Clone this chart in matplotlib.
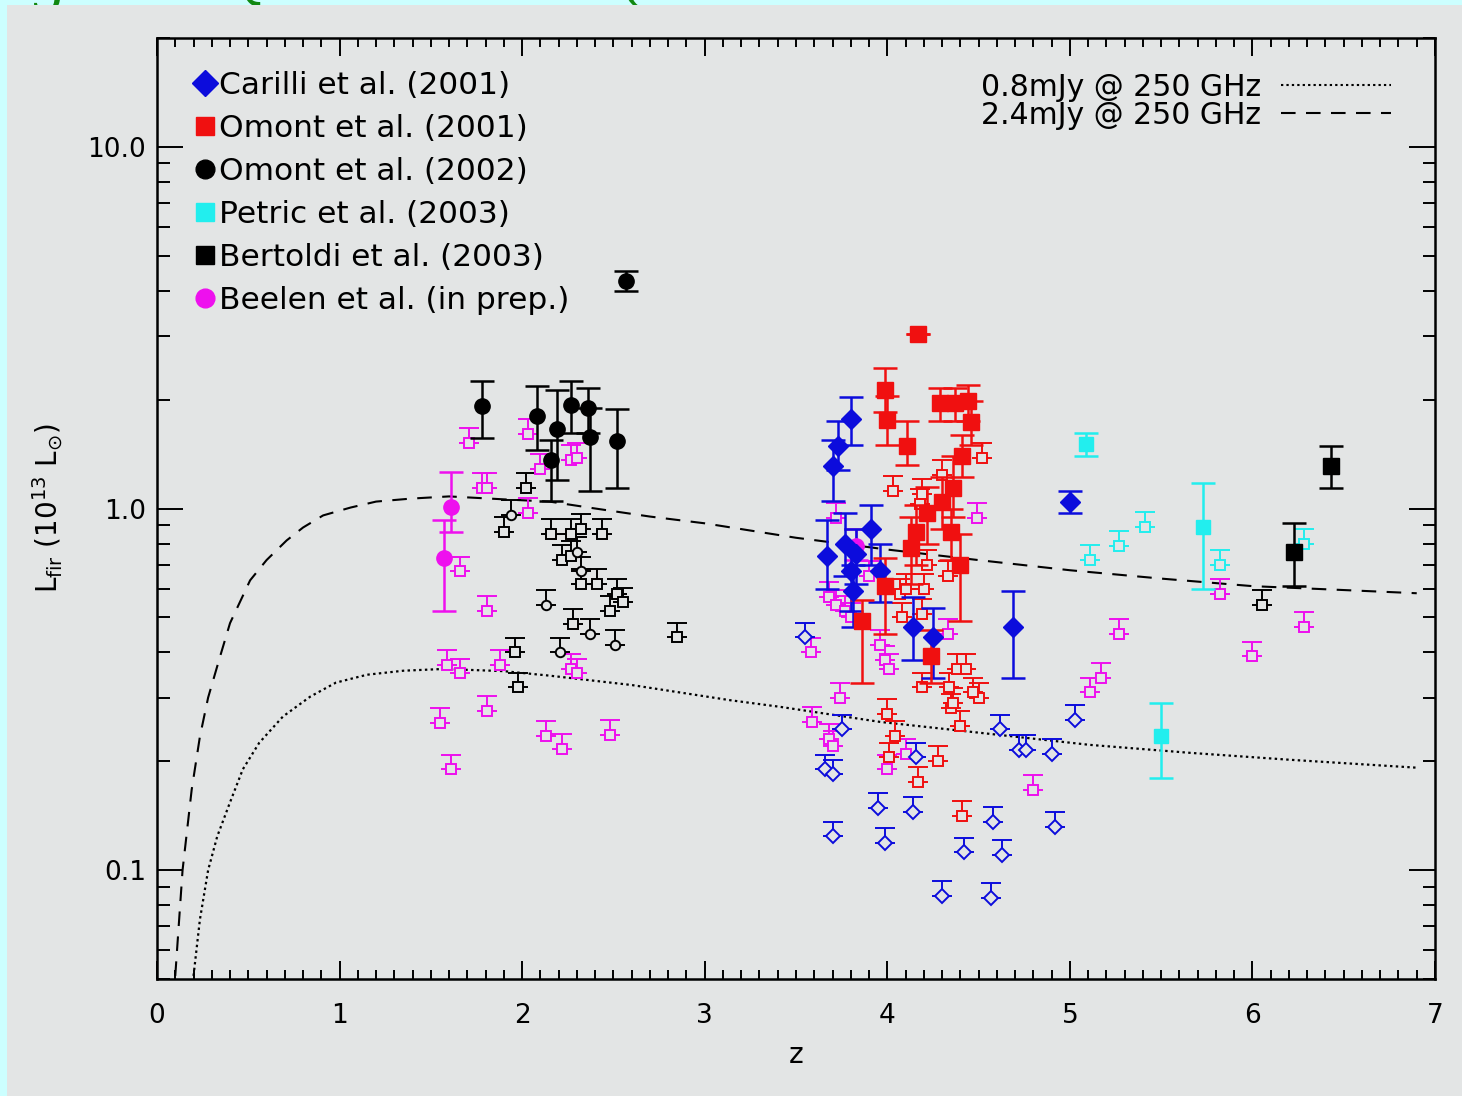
import numpy as np
import matplotlib
matplotlib.use("Agg")
import matplotlib.pyplot as plt
from matplotlib.lines import Line2D
from matplotlib.patches import Rectangle
from matplotlib.ticker import MultipleLocator, LogLocator, NullFormatter, FixedLocator, FixedFormatter

# ---------------- data ----------------
# sensitivity curves (L_FIR limit vs z)
dash_z = [0.10, 0.14, 0.19, 0.235, 0.28, 0.345, 0.40, 0.51, 0.60, 0.71, 0.80, 0.91, 1.06, 1.20, 1.39,
          1.60, 1.90, 2.15, 2.40, 2.70, 3.00, 3.50, 4.00, 4.50, 5.00, 5.50, 6.00, 6.50, 6.90]
dash_L = [0.051, 0.10, 0.167, 0.234, 0.30, 0.389, 0.482, 0.633, 0.72, 0.816, 0.886, 0.957, 1.006, 1.045, 1.065,
          1.08, 1.06, 1.045, 1.00, 0.95, 0.91, 0.83, 0.77, 0.72, 0.675, 0.64, 0.61, 0.595, 0.583]
dot_z = [0.20, 0.235, 0.28, 0.33, 0.40, 0.47, 0.56, 0.69, 0.84, 0.98, 1.15, 1.35, 1.57, 1.90, 2.15,
         2.60, 3.14, 3.41, 3.96, 4.50, 5.11, 5.66, 6.20, 6.90]
dot_L = [0.051, 0.073, 0.10, 0.124, 0.154, 0.19, 0.225, 0.266, 0.302, 0.33, 0.347, 0.356, 0.36, 0.355, 0.345,
         0.325, 0.295, 0.283, 0.257, 0.24, 0.222, 0.211, 0.202, 0.192]

# Carilli et al. (2001) - detections
car_z = [3.80, 3.73, 3.70, 3.67, 3.77, 3.91, 3.83, 3.80, 3.96, 3.81, 4.14, 4.25, 4.69, 5.00]
car_L = [1.77, 1.49, 1.31, 0.74, 0.80, 0.88, 0.75, 0.67, 0.67, 0.59, 0.47, 0.44, 0.47, 1.04]
car_lo = [1.50, 1.28, 1.05, 0.60, 0.65, 0.70, 0.62, 0.52, 0.55, 0.47, 0.38, 0.34, 0.34, 0.97]
car_hi = [2.03, 1.75, 1.55, 0.93, 0.97, 1.02, 0.88, 0.80, 0.80, 0.70, 0.57, 0.53, 0.59, 1.12]
# Carilli et al. (2001) - upper limits
car_lim_z = [3.55, 3.75, 3.66, 3.70, 4.16, 3.95, 4.14, 3.70, 3.99, 4.42, 4.58, 4.63, 4.30, 4.57,
             4.62, 4.72, 4.76, 4.90, 5.03, 4.92]
car_lim_L = [0.44, 0.245, 0.19, 0.184, 0.205, 0.149, 0.145, 0.124, 0.119, 0.112, 0.136, 0.110, 0.085, 0.084,
             0.245, 0.215, 0.215, 0.21, 0.26, 0.132]

# Omont et al. (2001) - detections
om1_z = [4.17, 3.99, 4.00, 4.11, 4.29, 4.37, 4.44, 4.46, 4.41, 4.36, 4.30, 4.22, 4.16, 4.35, 4.13, 4.40,
         3.99, 3.86, 4.24]
om1_L = [3.03, 2.13, 1.76, 1.49, 1.96, 1.96, 1.98, 1.73, 1.40, 1.14, 1.04, 0.97, 0.86, 0.86, 0.78, 0.70,
         0.61, 0.49, 0.39]
om1_lo = [3.03, 1.85, 1.50, 1.32, 1.75, 1.75, 1.75, 1.50, 1.22, 0.95, 0.88, 0.80, 0.70, 0.72, 0.62, 0.49,
          0.45, 0.33, 0.33]
om1_hi = [3.03, 2.45, 2.05, 1.75, 2.15, 2.15, 2.20, 1.98, 1.60, 1.40, 1.22, 1.15, 1.02, 1.00, 0.95, 0.85,
          0.73, 0.56, 0.46]
# Omont et al. (2001) - upper limits
om1_lim_z = [4.03, 4.52, 4.30, 4.19, 4.18, 4.22, 4.33, 4.07, 4.08, 4.19, 4.38, 4.43, 4.19, 4.34, 4.50,
             4.35, 4.40, 4.00, 4.04, 4.01, 4.28, 4.17, 4.41, 4.20, 4.10, 4.47, 4.36]
om1_lim_L = [1.12, 1.38, 1.24, 1.10, 1.03, 0.70, 0.65, 0.58, 0.50, 0.51, 0.36, 0.36, 0.32, 0.32, 0.30,
             0.28, 0.25, 0.27, 0.235, 0.205, 0.20, 0.175, 0.141, 0.60, 0.60, 0.31, 0.29]

# Omont et al. (2002) - detections
om2_z = [1.78, 2.08, 2.19, 2.27, 2.36, 2.37, 2.16, 2.52, 2.57]
om2_L = [1.92, 1.80, 1.66, 1.93, 1.90, 1.58, 1.36, 1.54, 4.27]
om2_lo = [1.57, 1.45, 1.20, 1.62, 1.62, 1.12, 1.05, 1.14, 4.00]
om2_hi = [2.25, 2.18, 2.12, 2.25, 2.15, 1.90, 1.55, 1.88, 4.55]
# Omont et al. (2002) - upper limits (squares / circles)
om2_lsq_z = [2.02, 1.90, 2.16, 2.27, 2.32, 2.44, 2.22, 2.27, 2.32, 2.41, 2.48, 2.52, 2.55, 2.28, 2.85,
             1.96, 1.98]
om2_lsq_L = [1.14, 0.86, 0.85, 0.85, 0.88, 0.85, 0.72, 0.74, 0.62, 0.62, 0.52, 0.58, 0.55, 0.48, 0.44,
             0.40, 0.32]
om2_lci_z = [1.94, 2.30, 2.32, 2.13, 2.37, 2.51, 2.21]
om2_lci_L = [0.96, 0.76, 0.67, 0.54, 0.45, 0.42, 0.40]

# Petric et al. (2003)
pet_z = [5.09, 5.73, 5.50]
pet_L = [1.51, 0.89, 0.235]
pet_lo = [1.40, 0.60, 0.18]
pet_hi = [1.62, 1.18, 0.29]
pet_lim_z = [5.11, 5.27, 5.41, 5.82, 6.28]
pet_lim_L = [0.72, 0.79, 0.89, 0.70, 0.80]

# Bertoldi et al. (2003)
ber_z = [6.43, 6.23]
ber_L = [1.31, 0.76]
ber_lo = [1.14, 0.61]
ber_hi = [1.49, 0.91]
ber_lim_z = [6.05]
ber_lim_L = [0.54]

# Beelen et al. (in prep.)
bee_z = [1.61, 1.57, 3.83]
bee_L = [1.01, 0.73, 0.79]
bee_lo = [0.86, 0.52, 0.72]
bee_hi = [1.26, 0.93, 0.88]
bee_lim_z = [1.71, 1.78, 1.81, 2.03, 2.10, 2.27, 2.30, 2.03, 1.66, 1.81, 1.59, 1.66, 1.88, 2.27, 2.30,
             1.55, 1.81, 2.13, 2.22, 2.48, 1.61, 3.58, 3.68, 3.72, 3.77, 3.80, 3.74, 3.59, 3.68, 3.70,
             4.00, 4.10, 4.33, 3.96, 3.99, 4.01, 3.90, 4.49, 3.72, 5.27, 5.17, 5.11, 5.82, 6.00, 6.28, 4.80]
bee_lim_L = [1.52, 1.14, 1.14, 1.61, 1.29, 1.36, 1.38, 0.97, 0.67, 0.52, 0.37, 0.35, 0.37, 0.36, 0.35,
             0.255, 0.276, 0.235, 0.216, 0.237, 0.19, 0.40, 0.57, 0.54, 0.52, 0.50, 0.30, 0.257, 0.23, 0.22,
             0.19, 0.21, 0.45, 0.42, 0.38, 0.36, 0.65, 0.94, 0.94, 0.45, 0.34, 0.31, 0.58, 0.39, 0.47, 0.167]

legend_labels = ["Carilli et al. (2001)", "Omont et al. (2001)", "Omont et al. (2002)",
                 "Petric et al. (2003)", "Bertoldi et al. (2003)", "Beelen et al. (in prep.)"]
curve_labels = ["0.8mJy @ 250 GHz", "2.4mJy @ 250 GHz"]

# ---------------- style ----------------
W, H = 1462, 1096
BG_OUT = "#ccffff"
BG = "#e3e5e5"
BLUE = "#0c0cdc"
RED = "#f01010"
BLACK = "#000000"
CYAN = "#22eeee"
MAG = "#ee10ee"
LIM_UP = 10 ** 0.041  # height of the upper-limit "T" symbol (style)

fig = plt.figure(figsize=(W / 100, H / 100), dpi=100)
fig.patch.set_facecolor(BG_OUT)
fig.patches.append(Rectangle((7 / W, 0), 1 - 7 / W, 1 - 5 / H, transform=fig.transFigure,
                             facecolor=BG, edgecolor="none", zorder=1))
for ch, xp in [("g", 48), ("Q", 245), ("(", 630)]:
    fig.text(xp / W, 1 + 2 / H, ch, color="#118811", fontsize=44, va="baseline", ha="center",
             family="DejaVu Serif", zorder=0)

L, R, T, B = 157, 1435, 38, 979
ax = fig.add_axes([L / W, 1 - B / H, (R - L) / W, (B - T) / H], zorder=2)
ax.set_facecolor("none")
ax.set_yscale("log")
ax.set_xlim(0, 7)
ax.set_ylim(0.05, 20)

# curves
ax.plot(dash_z, dash_L, color="black", lw=1.5, ls=(0, (7, 5)), zorder=2)
ax.plot(dot_z, dot_L, color="black", lw=1.6, ls=(0, (1.1, 1.5)), zorder=2)


def detections(z, Lv, lo, hi, color, marker, ms, zo=4):
    z = np.asarray(z); Lv = np.asarray(Lv)
    yerr = [Lv - np.asarray(lo), np.asarray(hi) - Lv]
    ax.errorbar(z, Lv, yerr=yerr, fmt=marker, color=color, mfc=color, mec=color, ms=ms,
                elinewidth=1.8, capsize=8.5, capthick=1.8, zorder=zo)


def limits(z, Lv, color, marker, zo=3):
    z = np.asarray(z); Lv = np.asarray(Lv)
    yerr = [np.zeros_like(Lv), Lv * (LIM_UP - 1)]
    ax.errorbar(z, Lv, yerr=yerr, fmt=marker, color=color, mfc=BG, mec=color, ms=6.8, mew=1.4,
                elinewidth=1.4, capsize=7.5, capthick=1.4, zorder=zo)


limits(om2_lsq_z, om2_lsq_L, BLACK, "s")
limits(om2_lci_z, om2_lci_L, BLACK, "o")
limits(ber_lim_z, ber_lim_L, BLACK, "s")
limits(bee_lim_z, bee_lim_L, MAG, "s")
limits(car_lim_z, car_lim_L, BLUE, "D")
limits(om1_lim_z, om1_lim_L, RED, "s")
limits(pet_lim_z, pet_lim_L, CYAN, "s")

detections(om2_z, om2_L, om2_lo, om2_hi, BLACK, "o", 11)
detections(bee_z, bee_L, bee_lo, bee_hi, MAG, "o", 11)
detections(car_z, car_L, car_lo, car_hi, BLUE, "D", 10.5)
detections(om1_z, om1_L, om1_lo, om1_hi, RED, "s", 11)
detections(pet_z, pet_L, pet_lo, pet_hi, CYAN, "s", 10.5)
detections(ber_z, ber_L, ber_lo, ber_hi, BLACK, "s", 11)

# axes styling
for s in ax.spines.values():
    s.set_linewidth(1.8)
ax.xaxis.set_major_locator(FixedLocator([0, 1, 2, 3, 4, 5, 6, 7]))
ax.xaxis.set_minor_locator(MultipleLocator(0.1))
ax.yaxis.set_major_locator(FixedLocator([0.1, 1.0, 10.0]))
ax.yaxis.set_major_formatter(FixedFormatter(["0.1", "1.0", "10.0"]))
ax.yaxis.set_minor_locator(LogLocator(base=10, subs=np.arange(2, 10), numticks=20))
ax.yaxis.set_minor_formatter(NullFormatter())
ax.tick_params(which="both", direction="in", top=True, right=True, width=1.4, labelsize=19)
ax.tick_params(axis="x", which="major", length=13, pad=17)
ax.tick_params(axis="x", which="minor", length=6.5)
ax.tick_params(axis="y", which="major", length=19, pad=8)
ax.tick_params(axis="y", which="minor", length=9)

ax.set_xlabel("z", fontsize=20, labelpad=9)
ax.set_ylabel(r"L$_{\rm fir}$ (10$^{13}$ L$_{\odot}$)", fontsize=20, labelpad=16)

# legends
handles = [Line2D([], [], ls="none", marker="D", color=BLUE, ms=13.5),
           Line2D([], [], ls="none", marker="s", color=RED, ms=13.5),
           Line2D([], [], ls="none", marker="o", color=BLACK, ms=13.5),
           Line2D([], [], ls="none", marker="s", color=CYAN, ms=13.5),
           Line2D([], [], ls="none", marker="s", color=BLACK, ms=13.5),
           Line2D([], [], ls="none", marker="o", color=MAG, ms=13.5)]
leg1 = ax.legend(handles, legend_labels, loc="upper left", bbox_to_anchor=(0.029, 0.965),
                 frameon=False, fontsize=22.5, handlelength=0.7, handletextpad=0.1,
                 labelspacing=0.45, borderpad=0, borderaxespad=0)
ax.add_artist(leg1)
h2 = [Line2D([], [], color="black", lw=1.5, ls=(0, (1.1, 1.5))),
      Line2D([], [], color="black", lw=1.5, ls=(0, (7, 5)))]
ax.legend(h2, curve_labels, loc="upper right", bbox_to_anchor=(0.9656, 0.963), frameon=False,
          fontsize=21.5, handlelength=3.7, handletextpad=0.65, markerfirst=False,
          labelspacing=-0.04, borderpad=0, borderaxespad=0)

fig.savefig("out.png", dpi=100, facecolor=fig.get_facecolor())
